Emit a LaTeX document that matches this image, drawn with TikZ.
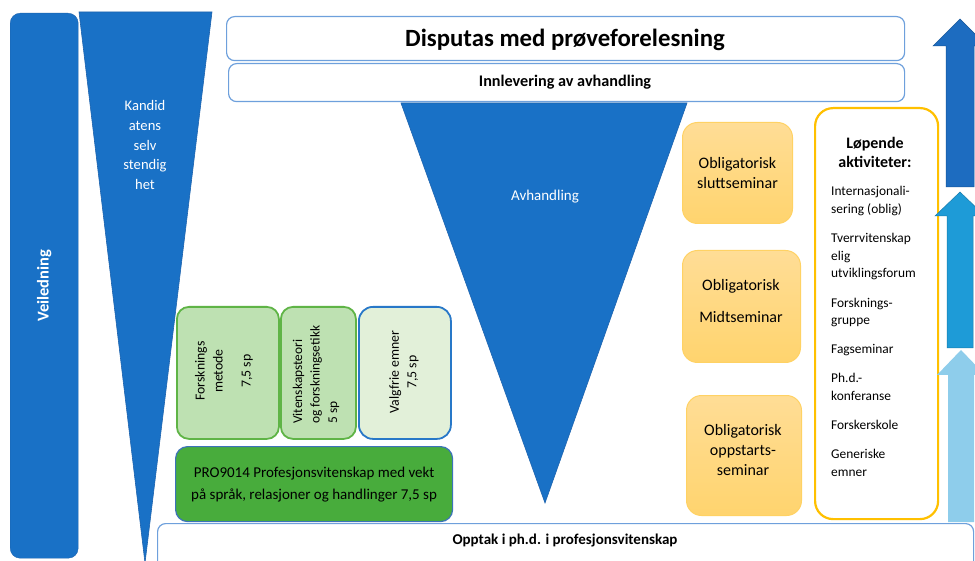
\documentclass[tikz,border=0pt]{standalone}
\usepackage{fontspec}
\setmainfont{Carlito}
\definecolor{bluefill}{RGB}{25,113,198}
\definecolor{blueedge}{RGB}{30,100,175}
\definecolor{topedge}{RGB}{110,160,220}
\definecolor{lgreen}{RGB}{190,225,178}
\definecolor{gedge}{RGB}{95,180,70}
\definecolor{vfill}{RGB}{226,240,217}
\definecolor{vedge}{RGB}{40,120,200}
\definecolor{dgreen}{RGB}{72,172,60}
\definecolor{dgedge}{RGB}{60,115,185}
\definecolor{orTop}{RGB}{255,221,150}
\definecolor{orBot}{RGB}{255,212,110}
\definecolor{oredge}{RGB}{255,210,100}
\definecolor{gold}{RGB}{255,192,0}
\definecolor{arrA}{RGB}{29,108,192}
\definecolor{arrB}{RGB}{30,155,215}
\definecolor{arrC}{RGB}{142,205,235}
\tikzset{
  wbox/.style={draw=topedge, line width=1.2pt, fill=white, rounded corners=8pt, inner sep=0pt},
  gbox/.style={draw=gedge, line width=1.8pt, fill=lgreen, rounded corners=12pt, inner sep=0pt},
  obox/.style={draw=oredge, line width=1pt, top color=orTop, bottom color=orBot, rounded corners=15pt, inner sep=0pt},
  wtxt/.style={text=white, align=center, inner sep=0pt},
  btxt/.style={text=black, align=center, inner sep=0pt},
}
\begin{document}
\begin{tikzpicture}[x=1pt,y=-1pt]
\useasboundingbox (0,0) rectangle (975,561);
\clip (0,0) rectangle (975,561);
\fill[white] (0,0) rectangle (975,561);

% Veiledning bar
\node[draw=blueedge, fill=bluefill, rounded corners=10pt, minimum width=68pt, minimum height=545pt, anchor=north west, inner sep=0pt] (veil) at (10,13) {};
\node[wtxt, rotate=90, font=\bfseries\fontsize{16.5}{18}\selectfont] (veiltxt) at (veil.center) {Veiledning};

% Left triangle
\filldraw[fill=bluefill, draw=blueedge, line width=0.6pt] (79,12) -- (212,12) -- (145,563) -- cycle;
\node[wtxt, font=\fontsize{14.6}{19.8}\selectfont] (kand) at (145,145) {Kandid\\atens\\selv\\stendig\\het};

% Top boxes
\node[wbox, minimum width=678pt, minimum height=44pt, anchor=north west] (disp) at (226,16) {};
\node[btxt, font=\bfseries\fontsize{24.8}{26}\selectfont] (disptxt) at (565,40) {Disputas med prøveforelesning};
\node[wbox, minimum width=676pt, minimum height=38pt, anchor=north west] (innl) at (228,63) {};
\node[btxt, font=\bfseries\fontsize{16.2}{18}\selectfont] (innltxt) at (565,82) {Innlevering av avhandling};

% Avhandling triangle
\filldraw[fill=bluefill, draw=blueedge, line width=0.6pt] (401,103) -- (687,103) -- (545,503) -- cycle;
\node[wtxt, font=\fontsize{15}{16}\selectfont] (avh) at (545,197) {Avhandling};

% Green course boxes
\node[gbox, minimum width=102pt, minimum height=132pt, anchor=north west] (fm) at (176,306) {};
\node[btxt, rotate=90, font=\fontsize{13.8}{18}\selectfont] (fmtxt) at (224,371) {Forsknings\\metode\\[10pt]7,5 sp};
\node[gbox, minimum width=75pt, minimum height=132pt, anchor=north west] (vt) at (280,306) {};
\node[btxt, rotate=90, align=left, anchor=west, font=\fontsize{13.4}{17.5}\selectfont] (vttxt) at (316,424) {Vitenskapsteori\\og forskningsetikk\\5 sp};
\node[draw=vedge, line width=1.8pt, fill=vfill, rounded corners=14pt, inner sep=0pt, minimum width=92pt, minimum height=132pt, anchor=north west] (ve) at (358,306) {};
\node[btxt, rotate=90, font=\fontsize{13.8}{17.5}\selectfont] (vetxt) at (404,372) {Valgfrie emner\\7,5 sp};

% PRO9014
\node[draw=dgedge, line width=1.2pt, fill=dgreen, rounded corners=12pt, inner sep=0pt, minimum width=277pt, minimum height=75pt, anchor=north west] (pro) at (175,446) {};
\node[btxt, font=\fontsize{15}{22}\selectfont] (protxt) at (pro.center) {PRO9014 Profesjonsvitenskap med vekt\\på språk, relasjoner og handlinger 7,5 sp};

% Opptak
\node[wbox, minimum width=816pt, minimum height=60pt, anchor=north west] (opp) at (157,523) {};
\node[btxt, font=\bfseries\fontsize{15}{16}\selectfont] (opptxt) at (565,541) {Opptak i ph.d. i profesjonsvitenskap};

% Orange seminar boxes
\node[obox, minimum width=110pt, minimum height=101pt, anchor=north west] (slutt) at (682,122) {};
\node[btxt, font=\fontsize{16}{20.5}\selectfont] (sluttxt) at (slutt.center) {Obligatorisk\\sluttseminar};
\node[obox, minimum width=118pt, minimum height=112pt, anchor=north west] (midt) at (682,250) {};
\node[btxt, font=\fontsize{16}{20.5}\selectfont] (midttxt) at (741,301) {Obligatorisk\\[11pt]Midtseminar};
\node[obox, minimum width=115pt, minimum height=120pt, anchor=north west] (oppst) at (686,395) {};
\node[btxt, font=\fontsize{16}{20}\selectfont] (oppsttxt) at (743,450) {Obligatorisk\\oppstarts-\\seminar};

% Loepende aktiviteter
\node[draw=gold, line width=2.2pt, fill=white, rounded corners=18pt, inner sep=0pt, minimum width=123pt, minimum height=411pt, anchor=north west] (lop) at (814,107) {};
\node[btxt, font=\bfseries\fontsize{16}{19}\selectfont] (loptitle) at (875,152) {Løpende\\aktiviteter:};
\node[btxt, align=left, anchor=north west, font=\fontsize{13.4}{17.7}\selectfont] (lopitems) at (831,186) {Internasjonali-\\sering (oblig)\\[11.5pt]Tverrvitenskap\\elig\\utviklingsforum\\[11.5pt]Forsknings-\\gruppe\\[11pt]Fagseminar\\[11.5pt]Ph.d.-\\konferanse\\[11.5pt]Forskerskole\\[11.5pt]Generiske\\emner};

% Right arrows (clipped at the edge)
\filldraw[fill=arrA, draw=arrA!80!black, line width=0.5pt] (946,187) -- (946,46) -- (933,46) -- (960,19) -- (987,46) -- (974,46) -- (974,187) -- cycle;
\filldraw[fill=arrB, draw=arrB!80!black, line width=0.5pt] (947,348) -- (947,216) -- (935,216) -- (960,192) -- (985,216) -- (973,216) -- (973,348) -- cycle;
\fill[arrC] (948,522) -- (948,375) -- (937,375) -- (961,350) -- (985,375) -- (974,375) -- (974,522) -- cycle;
\end{tikzpicture}
\end{document}
